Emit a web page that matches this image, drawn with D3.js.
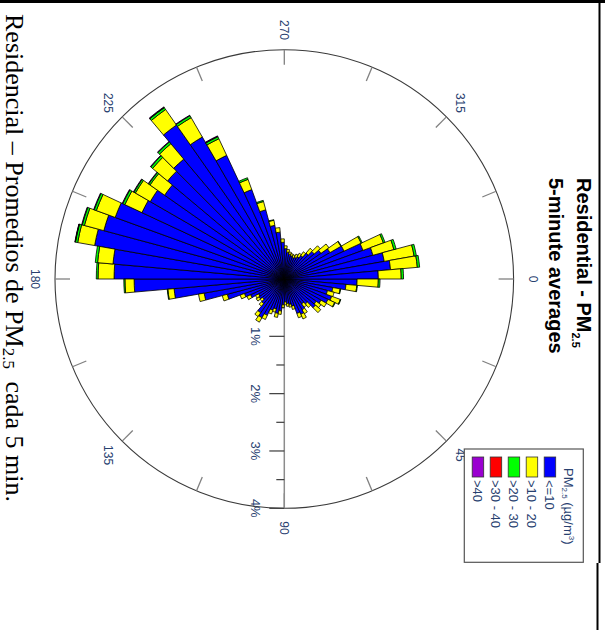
<!DOCTYPE html>
<html lang="en">
<head>
<meta charset="UTF-8">
<title>Residential - PM2.5 pollution rose</title>
<script src="https://cdn.jsdelivr.net/npm/d3@7"></script>
<style>
  body { margin: 0; background: #fff; }
  svg { display: block; }
  text { font-family: "Liberation Sans", Arial, sans-serif; }
  text.caption { font-family: "Liberation Serif", "Times New Roman", serif; }
</style>
</head>
<body>
<div id="chart"></div>
<script>
// direction bins (deg, bin centres, 5 deg wide)
const dirs = [2.5, 7.5, 12.5, 17.5, 22.5, 27.5, 32.5, 37.5, 42.5, 47.5, 52.5, 57.5,
  62.5, 67.5, 72.5, 77.5, 82.5, 87.5, 92.5, 97.5, 102.5, 107.5, 112.5, 117.5,
  122.5, 127.5, 132.5, 137.5, 142.5, 147.5, 152.5, 157.5, 162.5, 167.5, 172.5, 177.5,
  182.5, 187.5, 192.5, 197.5, 202.5, 207.5, 212.5, 217.5, 222.5, 227.5, 232.5, 237.5,
  242.5, 247.5, 252.5, 257.5, 262.5, 267.5, 272.5, 277.5, 282.5, 287.5, 292.5, 297.5,
  302.5, 307.5, 312.5, 317.5, 322.5, 327.5, 332.5, 337.5, 342.5, 347.5, 352.5, 357.5];

// % of time in each PM2.5 class per direction
const pmLe10 = [1.27, 1.08, .86, .78, .88, .84, .74, .68, .71, .57, .53, .62,
  .68, .64, .49, .45, .43, .40, .45, .56, .61, .54, .58, .70,
  .78, .72, .56, .50, .54, .52, .65, .74, 1.03, 1.42, 1.93, 2.62,
  2.97, 3.00, 3.36, 3.26, 3.14, 2.74, 2.70, 2.55, 2.66, 2.73, 3.28, 2.86,
  2.38, 1.66, 1.25, .95, .82, .64, .53, .47, .44, .42, .40, .42,
  .45, .50, .59, .68, .78, .92, 1.15, 1.46, 1.60, 1.77, 1.86, 1.64];
const pm10to20 = [.37, .19, .13, .12, .16, .13, .11, .10, .12, .08, .07, .08,
  .09, .08, .06, .05, .05, .05, .05, .06, .07, .06, .07, .08,
  .09, .08, .06, .05, .06, .06, .07, .08, .09, .10, .11, .16,
  .28, .27, .30, .35, .35, .33, .30, .31, .34, .35, .33, .39,
  .32, .19, .15, .09, .08, .06, .05, .05, .04, .04, .05, .06,
  .07, .08, .11, .14, .17, .22, .33, .38, .38, .53, .47, .40];
const pm20to30 = [.03, .01, .01, 0, .01, .01, 0, 0, 0, 0, 0, 0,
  0, 0, 0, 0, 0, 0, 0, 0, 0, 0, 0, 0,
  0, 0, 0, 0, 0, 0, 0, 0, 0, 0, .01, .02,
  .03, .04, .04, .04, .04, .04, .03, .03, .04, .04, .04, .04,
  .04, .03, .02, .01, 0, 0, 0, 0, 0, 0, 0, 0,
  0, 0, 0, 0, 0, .01, .02, .03, .04, .04, .04, .04];
const pm30to40 = [0, 0, 0, 0, 0, 0, 0, 0, 0, 0, 0, 0,
  0, 0, 0, 0, 0, 0, 0, 0, 0, 0, 0, 0,
  0, 0, 0, 0, 0, 0, 0, 0, 0, 0, 0, 0,
  0, 0, .005, 0, 0, 0, 0, 0, 0, 0, .005, 0,
  .005, 0, 0, 0, 0, 0, 0, 0, 0, 0, 0, 0,
  0, 0, 0, 0, 0, 0, 0, 0, 0, 0, 0, 0];
const pmGt40 = [0, 0, 0, 0, 0, 0, 0, 0, 0, 0, 0, 0,
  0, 0, 0, 0, 0, 0, 0, 0, 0, 0, 0, 0,
  0, 0, 0, 0, 0, 0, 0, 0, 0, 0, 0, 0,
  0, 0, .005, .01, .01, .01, .01, .01, .01, .01, .01, .01,
  .01, 0, 0, 0, 0, 0, 0, 0, 0, 0, 0, 0,
  0, 0, 0, 0, 0, 0, 0, 0, 0, 0, 0, 0];

const classLabels = ["<=10", ">10 - 20", ">20 - 30", ">30 - 40", ">40"];
const classColors = ["#0000ff", "#ffff00", "#00ff00", "#ff0000", "#9a00d0"];
const pctTicks = [0.5, 1, 1.5, 2, 2.5, 3, 3.5, 4];
const pctLabels = [1, 2, 3, 4];
const compassTicks = [0, 22.5, 45, 67.5, 90, 112.5, 135, 157.5, 180, 202.5, 225, 247.5, 270, 292.5, 315, 337.5];
const compassLabels = [0, 45, 90, 135, 180, 225, 270, 315];

// page is the original plot turned a quarter clockwise
const svg = d3.select("#chart").append("svg")
    .attr("width", 605)
    .attr("height", 634);
svg.append("rect").attr("width", 605).attr("height", 634).attr("fill", "#fff");

const g = svg.append("g").attr("transform", "translate(605,0) rotate(90)");

const cx = 279, cy = 320.7, R = 229.3;
const labelColor = "#27406f";
const rad = d3.scaleLinear().domain([0, 4]).range([0, R]);
const toRad = d => d * Math.PI / 180;

// frame edges
g.append("rect").attr("x", 0).attr("y", 0).attr("width", 3).attr("height", 605).attr("fill", "#000");
g.append("line").attr("x1", 0).attr("x2", 563).attr("y1", 5.5).attr("y2", 5.5)
    .attr("stroke", "#000").attr("stroke-width", 2);
g.append("line").attr("x1", 563).attr("x2", 630).attr("y1", 7.5).attr("y2", 7.5)
    .attr("stroke", "#000").attr("stroke-width", 2);

const plot = g.append("g").attr("transform", `translate(${cx},${cy})`);

// outer circle at 4%
plot.append("circle").attr("r", rad(4)).attr("fill", "none")
    .attr("stroke", "#3a3a3a").attr("stroke-width", 1.1);

// compass ticks
plot.selectAll(".ctick").data(compassTicks).join("line")
    .attr("class", "ctick")
    .attr("x1", d => rad(4) * Math.sin(toRad(d)))
    .attr("y1", d => -rad(4) * Math.cos(toRad(d)))
    .attr("x2", d => (rad(4) - 15) * Math.sin(toRad(d)))
    .attr("y2", d => -(rad(4) - 15) * Math.cos(toRad(d)))
    .attr("stroke", "#808080").attr("stroke-width", 1.3);

plot.selectAll(".clab").data(compassLabels).join("text")
    .attr("class", "clab")
    .attr("x", d => 249 * Math.sin(toRad(d)))
    .attr("y", d => -249 * Math.cos(toRad(d)))
    .attr("text-anchor", "middle")
    .attr("dominant-baseline", "central")
    .attr("font-size", 12)
    .attr("fill", labelColor)
    .text(d => d);

// radial axis towards 90
plot.append("line").attr("x1", 0).attr("y1", 0).attr("x2", rad(4)).attr("y2", 0)
    .attr("stroke", "#8c8c8c").attr("stroke-width", 1.5);
plot.selectAll(".rtick").data(pctTicks).join("line")
    .attr("class", "rtick")
    .attr("x1", d => rad(d)).attr("x2", d => rad(d))
    .attr("y1", 0).attr("y2", d => Number.isInteger(d) ? 15 : 8)
    .attr("stroke", "#3c3c3c").attr("stroke-width", 1.2);
plot.selectAll(".rlab").data(pctLabels).join("text")
    .attr("class", "rlab")
    .attr("x", d => rad(d)).attr("y", 33.6)
    .attr("text-anchor", "middle")
    .attr("font-size", 13)
    .attr("fill", labelColor)
    .text(d => d + "%");

// stacked wedges
const keys = ["le10", "b10", "b20", "b30", "gt40"];
const rows = dirs.map((d, i) => ({
  dir: d, le10: pmLe10[i], b10: pm10to20[i], b20: pm20to30[i], b30: pm30to40[i], gt40: pmGt40[i]
}));
const series = d3.stack().keys(keys)(rows);
const half = 2.5;
const arc = d3.arc()
    .innerRadius(d => rad(d[0]))
    .outerRadius(d => rad(d[1]))
    .startAngle(d => toRad(d.data.dir - half))
    .endAngle(d => toRad(d.data.dir + half));

plot.selectAll(".layer").data(series).join("g")
    .attr("class", "layer")
    .attr("fill", (s, i) => classColors[i])
    .selectAll("path").data(s => s.filter(d => d[1] - d[0] > 0)).join("path")
    .attr("d", arc)
    .attr("stroke", "#000")
    .attr("stroke-width", 0.8)
    .attr("stroke-linejoin", "round");

// title
const title = g.append("text").attr("x", 178).attr("y", 28)
    .attr("font-size", 20).attr("font-weight", "bold").attr("fill", "#000");
title.append("tspan").text("Residential - PM");
title.append("tspan").attr("font-size", 11).attr("dy", 5).text("2.5");
g.append("text").attr("x", 178).attr("y", 56)
    .attr("font-size", 20).attr("font-weight", "bold").attr("fill", "#000")
    .text("5-minute averages");

// legend
const leg = g.append("g");
leg.append("rect").attr("x", 449).attr("y", 21.7).attr("width", 113.3).attr("height", 119)
    .attr("fill", "#fff").attr("stroke", "#555").attr("stroke-width", 1.2);
const lt = leg.append("text").attr("x", 468).attr("y", 41).attr("font-size", 13).attr("fill", labelColor);
lt.append("tspan").text("PM");
lt.append("tspan").attr("font-size", 8).attr("dy", 2).text("2.5");
lt.append("tspan").attr("dy", -2).text(" (\u00b5g/m");
lt.append("tspan").attr("font-size", 8).attr("dy", -5).text("3");
lt.append("tspan").attr("dy", 5).text(")");
leg.selectAll(".sw").data(classLabels).join("rect")
    .attr("class", "sw")
    .attr("x", 457).attr("y", (d, i) => 49.3 + i * 18)
    .attr("width", 20).attr("height", 11.5)
    .attr("fill", (d, i) => classColors[i])
    .attr("stroke", "#333").attr("stroke-width", 0.8);
leg.selectAll(".sl").data(classLabels).join("text")
    .attr("class", "sl")
    .attr("x", 480).attr("y", (d, i) => 60 + i * 18)
    .attr("font-size", 13).attr("fill", labelColor)
    .text(d => d);

// caption
const cap = g.append("text").attr("class", "caption").attr("x", 14).attr("y", 599)
    .attr("font-size", 26).attr("fill", "#000");
cap.append("tspan").text("Residencial \u2013 Promedios de PM");
cap.append("tspan").attr("font-size", 17).attr("dy", 3).text("2.5");
cap.append("tspan").attr("dy", -3).attr("dx", 6).text(" cada 5 min.");
</script>
</body>
</html>
